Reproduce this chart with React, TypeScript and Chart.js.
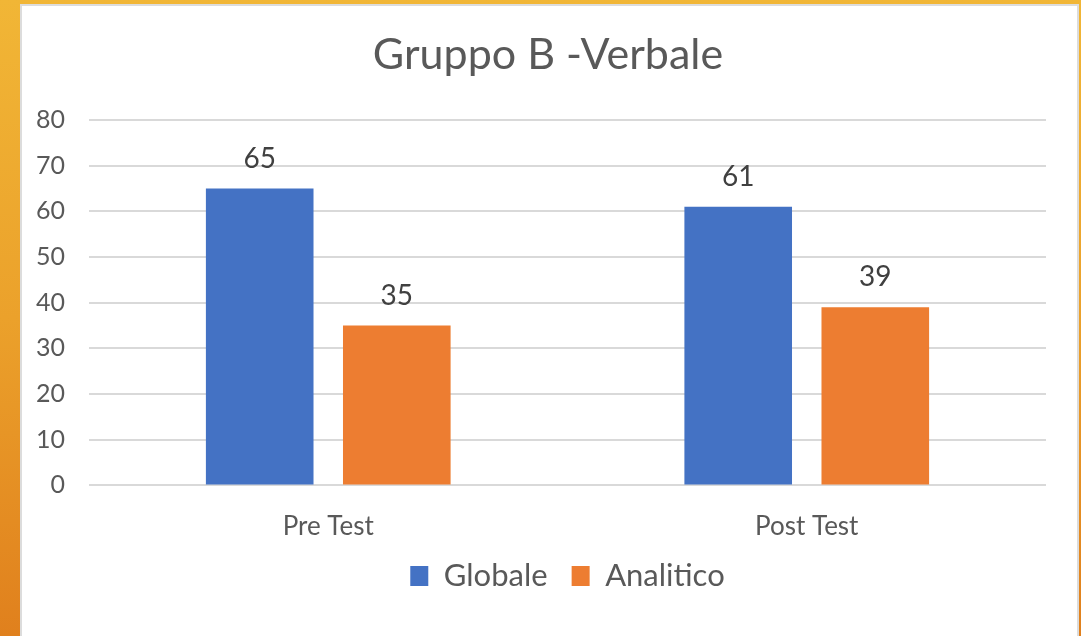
import React, { useEffect, useRef } from "react";
import { Chart, registerables } from "chart.js";

Chart.register(...registerables);

const categories = ["Pre Test", "Post Test"];
const globaleValues = [65, 61];
const analiticoValues = [35, 39];
const seriesNames = ["Globale", "Analitico"];
const yTicks = [0, 10, 20, 30, 40, 50, 60, 70, 80];
const titleText = "Gruppo B -Verbale";

const FONT = "Lato, 'Open Sans', sans-serif";

const dataLabelPlugin = {
  id: "dataLabels",
  afterDatasetsDraw(chart: any) {
    const ctx = chart.ctx;
    ctx.save();
    ctx.font = `28px ${FONT}`;
    ctx.fillStyle = "#404040";
    ctx.textAlign = "center";
    ctx.textBaseline = "middle";
    chart.data.datasets.forEach((ds: any, i: number) => {
      const meta = chart.getDatasetMeta(i);
      meta.data.forEach((el: any, j: number) => {
        ctx.fillText(String(ds.data[j]), el.x, el.y - 30);
      });
    });
    ctx.restore();
  },
};

export default function App() {
  const ref = useRef<HTMLCanvasElement | null>(null);

  useEffect(() => {
    if (!ref.current) return;
    const chart = new Chart(ref.current, {
      type: "bar",
      data: {
        labels: categories,
        datasets: [
          {
            label: seriesNames[0],
            data: globaleValues,
            backgroundColor: "#4472C4",
            categoryPercentage: 0.573,
            barPercentage: 0.785,
          },
          {
            label: seriesNames[1],
            data: analiticoValues,
            backgroundColor: "#ED7D31",
            categoryPercentage: 0.573,
            barPercentage: 0.785,
          },
        ],
      },
      options: {
        responsive: false,
        animation: false,
        layout: { padding: { left: 0, right: 0, top: 0, bottom: 34.6 } },
        plugins: {
          title: {
            display: true,
            text: titleText,
            color: "#595959",
            font: { family: FONT, size: 43, weight: "normal" },
            padding: { top: 25.2, bottom: 39.2 },
          },
          legend: {
            display: true,
            position: "bottom",
            fullSize: false,
            labels: {
              color: "#595959",
              font: { family: FONT, size: 31 },
              boxWidth: 18,
              boxHeight: 20,
              padding: 24,
            },
          },
          tooltip: { enabled: false },
        },
        scales: {
          x: {
            grid: { display: false, drawTicks: false },
            border: { display: false },
            ticks: {
              color: "#595959",
              font: { family: FONT, size: 26 },
              padding: 26,
            },
            afterFit: (s: any) => {
              s.height = 51;
            },
          },
          y: {
            min: 0,
            max: 80,
            grid: { color: "#d9d9d9", lineWidth: 2, drawTicks: false },
            border: { display: false },
            afterBuildTicks: (s: any) => {
              s.ticks = yTicks.map((v) => ({ value: v }));
            },
            ticks: {
              color: "#595959",
              font: { family: FONT, size: 25 },
              padding: 24,
            },
            afterFit: (s: any) => {
              s.width = 72;
            },
          },
          yRightSpace: {
            type: "linear",
            position: "right",
            display: true,
            grid: { display: false, drawTicks: false },
            border: { display: false },
            ticks: { display: false },
            afterFit: (s: any) => {
              s.width = 33;
            },
          },
        },
      },
      plugins: [dataLabelPlugin],
    });
    return () => chart.destroy();
  }, []);

  return (
    <div
      style={{
        position: "fixed",
        left: 0,
        top: 0,
        width: 1081,
        height: 636,
        overflow: "hidden",
        background: "linear-gradient(180deg, #f1b636 0%, #eba12b 50%, #e0801d 100%)",
      }}
    >
      <div
        style={{
          position: "absolute",
          left: 20,
          top: 4,
          width: 1059,
          height: 632,
          background: "#ffffff",
          boxShadow: "inset 2px 2px 0 #dcdcdc, inset -2px 0 0 #dcdcdc",
        }}
      />
      <canvas
        ref={ref}
        width={1062}
        height={632}
        style={{ position: "absolute", left: 17, top: 4, width: 1062, height: 632 }}
      />
    </div>
  );
}
